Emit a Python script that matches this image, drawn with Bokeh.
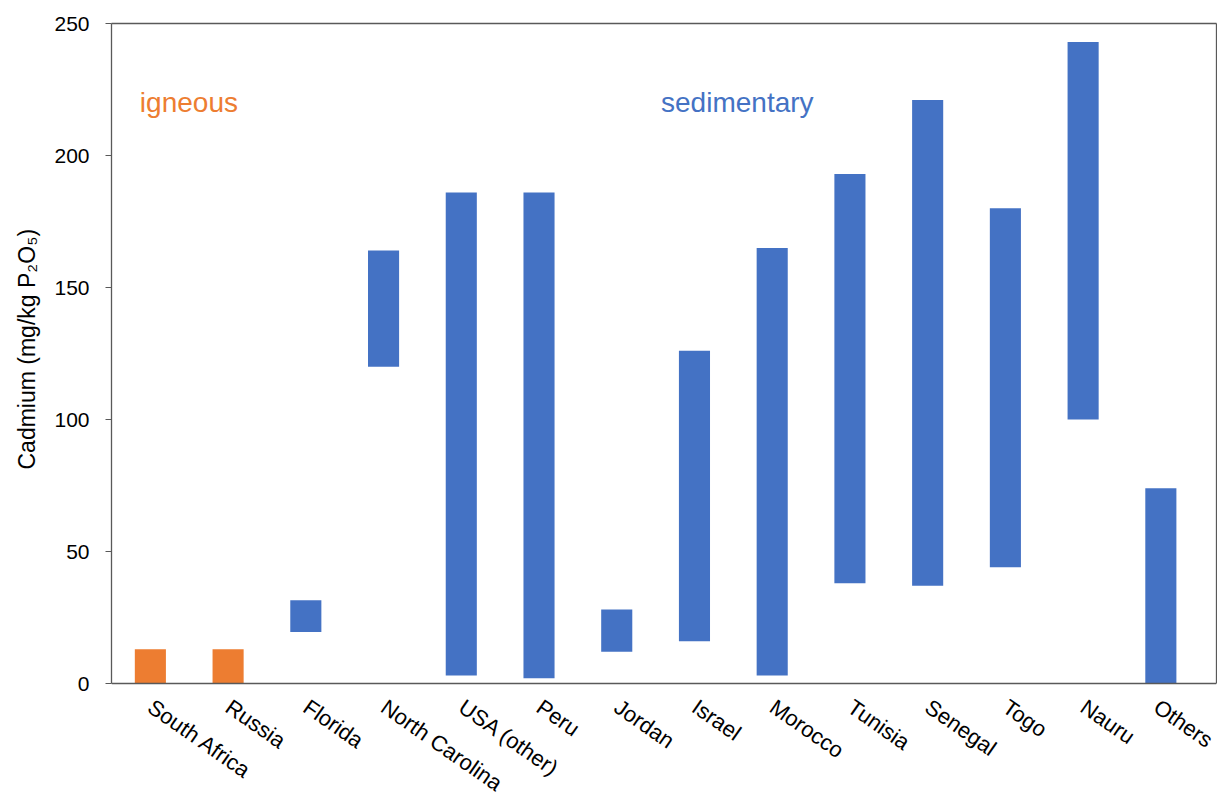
from bokeh.plotting import figure
from bokeh.models import Range1d, FixedTicker, Label, ColumnDataSource, LinearAxis, Title
from bokeh.embed import file_html
from bokeh.resources import INLINE

categories = ["South Africa", "Russia", "Florida", "North Carolina", "USA (other)", "Peru",
              "Jordan", "Israel", "Morocco", "Tunisia", "Senegal", "Togo", "Nauru", "Others"]
low = [0, 0, 19.5, 120, 3, 2, 12, 16, 3, 38, 37, 44, 100, 0]
high = [13, 13, 31.5, 164, 186, 186, 28, 126, 165, 193, 221, 180, 243, 74]
rock_type = ["igneous", "igneous"] + ["sedimentary"] * 12
y_ticks = [0, 50, 100, 150, 200, 250]
y_min, y_max = 0, 250

ORANGE = "#ED7D31"
BLUE = "#4472C4"
AXIS_COL = "#595959"
FONT = "Liberation Sans"

idx = list(range(len(categories)))
colors = [ORANGE if t == "igneous" else BLUE for t in rock_type]
src = ColumnDataSource(dict(x=idx, low=low, high=high, color=colors))

# frame runs to the bottom of the page; the value axis covers 0..250 over 660 px,
# the room under 0 holds the rotated category names
px_per_unit = 660 / (y_max - y_min)
p = figure(width=1217, height=797, output_backend="svg", toolbar_location=None,
           x_range=Range1d(-0.5, 13.716), y_range=Range1d(y_min - 114 / px_per_unit, y_max),
           min_border_left=110, min_border_top=23, min_border_bottom=0, min_border_right=1)

p.vbar(x="x", bottom="low", top="high", width=0.4, fill_color="color", line_color=None, source=src)

p.xgrid.visible = False
p.ygrid.visible = False
p.outline_line_color = None

# x axis, drawn at value 0
p.xaxis.fixed_location = 0
p.xaxis.ticker = FixedTicker(ticks=idx)
p.xaxis.major_label_overrides = {i: c for i, c in enumerate(categories)}
p.xaxis.major_label_orientation = -0.61
p.xaxis.major_tick_line_color = None
p.xaxis.minor_tick_line_color = None
p.xaxis.major_tick_out = 0
p.xaxis.major_tick_in = 0
p.xaxis.major_label_standoff = 21
p.xaxis.major_label_text_font = FONT
p.xaxis.major_label_text_font_size = "22px"
p.xaxis.major_label_text_color = "black"
p.xaxis.axis_line_color = AXIS_COL
p.xaxis.axis_line_width = 1.3

# y axis
p.yaxis.bounds = (y_min, y_max)
p.yaxis.ticker = FixedTicker(ticks=y_ticks)
p.yaxis.minor_tick_line_color = None
p.yaxis.major_tick_in = 0
p.yaxis.major_tick_out = 6
p.yaxis.major_tick_line_color = AXIS_COL
p.yaxis.axis_line_color = AXIS_COL
p.yaxis.axis_line_width = 1.3
p.yaxis.major_label_standoff = 16
p.yaxis.major_label_text_font = FONT
p.yaxis.major_label_text_font_size = "21px"
p.yaxis.major_label_text_color = "black"

# y axis title, placed along the 0..250 span
p.add_layout(Title(text="Cadmium (mg/kg P\u2082O\u2085)", align="left", offset=328, standoff=23,
                   text_font=FONT, text_font_size="23px", text_font_style="normal",
                   text_color="black"), "left")

# box edges: top and right
for side in ("above", "right"):
    ax = LinearAxis(ticker=FixedTicker(ticks=[]), axis_line_color=AXIS_COL, axis_line_width=1.3,
                    major_tick_line_color=None, minor_tick_line_color=None,
                    major_tick_out=0, major_tick_in=0, major_label_standoff=0)
    if side == "right":
        ax.bounds = (y_min, y_max)
    p.add_layout(ax, side)

p.add_layout(Label(x=-0.135, y=220, text="igneous", text_color=ORANGE,
                   text_font=FONT, text_font_size="28px", text_baseline="alphabetic"))
p.add_layout(Label(x=6.57, y=220, text="sedimentary", text_color=BLUE,
                   text_font=FONT, text_font_size="28px", text_baseline="alphabetic"))

open("out.html", "w").write(file_html(p, INLINE))
